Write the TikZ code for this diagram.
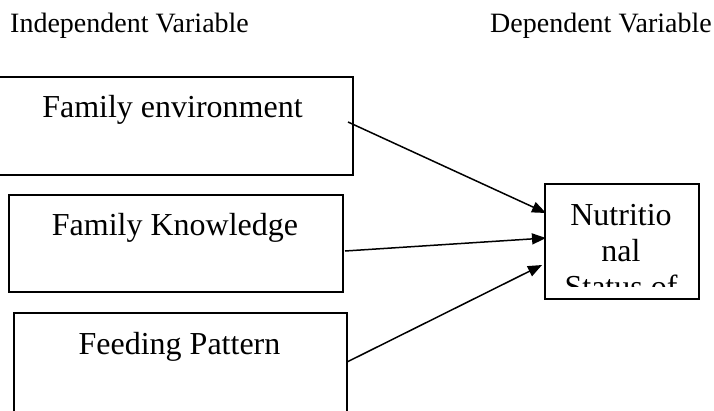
\documentclass[tikz,border=0pt]{standalone}
\usepackage{fontspec}
\setmainfont{Liberation Serif}
\usetikzlibrary{arrows.meta}
\begin{document}
\begin{tikzpicture}[x=1pt,y=1pt,
  box/.style={draw, line width=1.5pt, inner sep=0pt, anchor=north west},
  boxtext/.style={font=\fontsize{32}{36}\selectfont, anchor=base, inner sep=0pt},
  head/.style={font=\fontsize{28}{32}\selectfont, anchor=base west, inner sep=0pt},
  link/.style={line width=1.5pt, -{Triangle[length=14pt,width=11pt]}}]
\useasboundingbox (0,0) rectangle (714,-410);
\clip (0,0) rectangle (714,-410);

% column headings
\node[head] (indep) at (10,-32) {Independent Variable};
\node[head] (dep) at (490,-32) {Dependent Variable};

% independent variable boxes
\node[box, minimum width=359pt, minimum height=98pt] (env) at (-7,-76) {};
\node[boxtext] (envtext) at (172.5,-117) {Family environment};

\node[box, minimum width=334pt, minimum height=97pt] (know) at (8,-194) {};
\node[boxtext] (knowtext) at (175,-235) {Family Knowledge};

\node[box, minimum width=333pt, minimum height=130pt] (feed) at (13,-312) {};
\node[boxtext] (feedtext) at (179.5,-354) {Feeding Pattern};

% dependent variable box, its text cut off at the bottom
\node[box, minimum width=154pt, minimum height=115pt] (nut) at (544,-183) {};
\begin{scope}
  \clip (546,-185) rectangle (696,-286);
  \node[boxtext, align=center] (nuttext) at (621,-297) {Nutritio\\nal\\Status of};
\end{scope}

% connector end points
\coordinate (s1) at (348,-122);
\coordinate (s2) at (345,-251);
\coordinate (s3) at (347,-362);
\coordinate (e1) at (546,-213);
\coordinate (e2) at (546,-238);
\coordinate (e3) at (542,-265);

\draw[link] (s1) -- (e1);
\draw[link] (s2) -- (e2);
\draw[link] (s3) -- (e3);
\end{tikzpicture}
\end{document}
